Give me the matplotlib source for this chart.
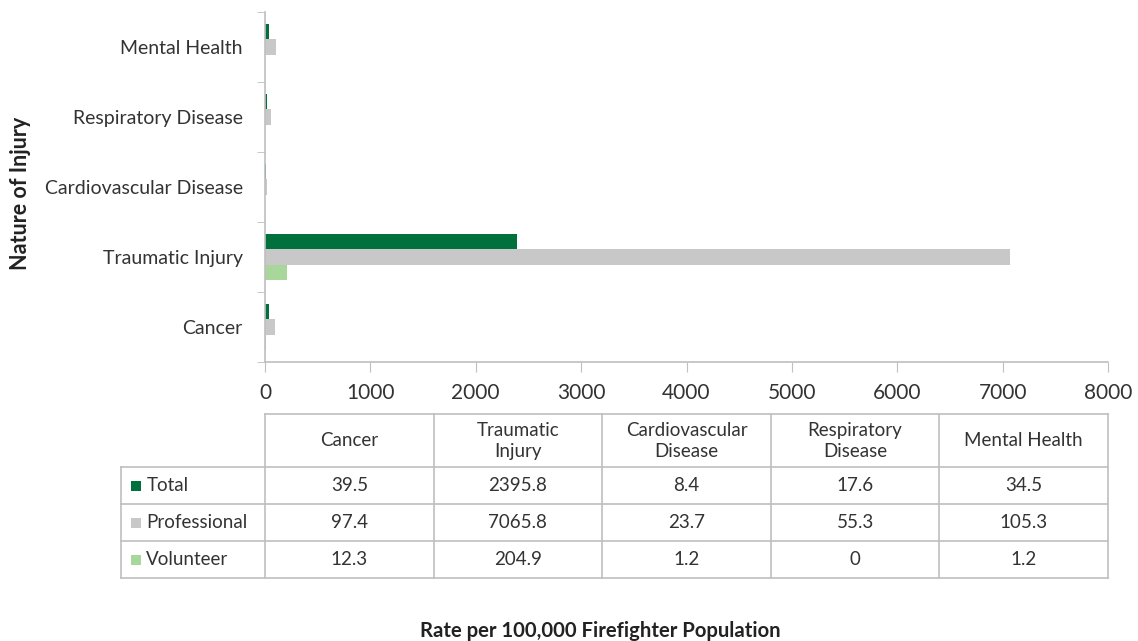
import matplotlib
matplotlib.use("Agg")
import matplotlib.pyplot as plt
from matplotlib.patches import Rectangle

plt.rcParams['font.family'] = ['Lato', 'DejaVu Sans']

categories = ["Cancer", "Traumatic Injury", "Cardiovascular Disease", "Respiratory Disease", "Mental Health"]
table_headers = ["Cancer", "Traumatic\nInjury", "Cardiovascular\nDisease", "Respiratory\nDisease", "Mental Health"]
series_names = ["Total", "Professional", "Volunteer"]
total = [39.5, 2395.8, 8.4, 17.6, 34.5]
professional = [97.4, 7065.8, 23.7, 55.3, 105.3]
volunteer = [12.3, 204.9, 1.2, 0, 1.2]
x_ticks = [0, 1000, 2000, 3000, 4000, 5000, 6000, 7000, 8000]

colors = ["#00703C", "#C8C8C8", "#A9D69B"]
series = [total, professional, volunteer]
offsets = [0.215, 0.0, -0.215]
bar_h = 0.215

W, H = 1138, 641
fig = plt.figure(figsize=(W / 100, H / 100), dpi=100)
txt = "#333333"

# main axes
ax = fig.add_axes([265 / W, 1 - 362 / H, (1108 - 265) / W, (362 - 12) / H])
ypos = list(range(len(categories)))
for vals, off, col in zip(series, offsets, colors):
    ax.barh([y + off for y in ypos], vals, height=bar_h, color=col, edgecolor='none')

ax.set_xlim(0, 8000)
ax.set_ylim(-0.5, len(categories) - 0.5)
ax.set_xticks(x_ticks)
ax.set_xticklabels([str(t) for t in x_ticks], fontsize=15, color=txt)
ax.set_yticks(ypos)
ax.set_yticklabels(categories, fontsize=14, color=txt)
ax.tick_params(axis='y', length=0, pad=16)
ax.set_yticks([y - 0.5 for y in range(len(categories) + 1)], minor=True)
ax.tick_params(axis='y', which='minor', length=6, color="#BFBFBF", direction='out')
ax.tick_params(axis='x', length=7, color="#BFBFBF", direction='out', pad=8)
for s in ['top', 'right']:
    ax.spines[s].set_visible(False)
for s in ['left', 'bottom']:
    ax.spines[s].set_color("#BFBFBF")
    ax.spines[s].set_linewidth(1.2)

# data table
tax = fig.add_axes([121 / W, 1 - 578 / H, (1108 - 121) / W, (578 - 414) / H])
lab_w = 144 / 168.6
tax.set_xlim(-lab_w, len(categories))
tax.set_ylim(0, 164)
tax.axis('off')
row_edges = [0, 37, 74, 111, 164]
gc = "#BFBFBF"
lw = 1.2
tax.plot([0, 5], [164, 164], color=gc, lw=lw, clip_on=False)
for i in range(6):
    tax.plot([i, i], [0, 164], color=gc, lw=lw, clip_on=False)
for yv in row_edges[:-1]:
    tax.plot([-lab_w, 5], [yv, yv], color=gc, lw=lw, clip_on=False)
tax.plot([-lab_w, -lab_w], [0, 111], color=gc, lw=lw, clip_on=False)

for j, h in enumerate(table_headers):
    tax.text(j + 0.5, 137, h, ha='center', va='center', fontsize=13.5, color=txt, linespacing=1.35)
for r, (name, vals, col) in enumerate(zip(series_names, series, colors)):
    top = row_edges[3 - r]
    bot = row_edges[2 - r]
    yc = (top + bot) / 2
    tax.add_patch(Rectangle((-lab_w + 0.06, yc - 5), 10 / 168.6, 10, color=col, lw=0))
    tax.text(-lab_w + 0.15, yc, name, ha='left', va='center', fontsize=13.5, color=txt)
    for j, v in enumerate(vals):
        tax.text(j + 0.5, yc, f"{v:g}", ha='center', va='center', fontsize=13.5, color=txt)

fig.text(21 / W, 1 - 193 / H, "Nature of Injury", rotation=90, ha='center', va='center',
         fontsize=15.5, fontweight='bold', color="#222222")
fig.text(600 / W, 1 - 631 / H, "Rate per 100,000 Firefighter Population", ha='center', va='center',
         fontsize=14.6, fontweight='bold', color="#222222")

fig.savefig("out.png", dpi=100)
